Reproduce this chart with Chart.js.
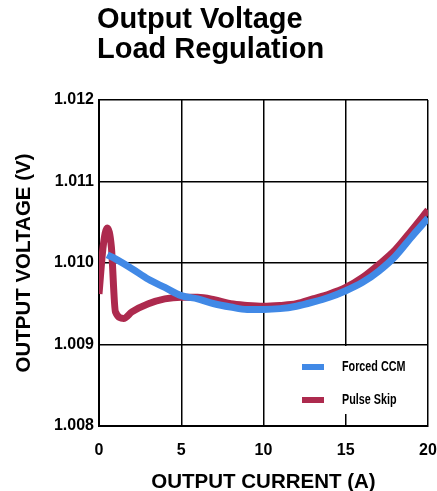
<!DOCTYPE html>
<html>
<head>
<meta charset="utf-8">
<script src="https://cdn.jsdelivr.net/npm/chart.js@4"></script>
<style>
  html, body { margin: 0; padding: 0; background: #fff; }
  #wrap { position: relative; width: 437px; height: 491px; }
  #title { position: absolute; left: 97px; top: 3px; margin: 0; font: bold 29px/30px "Liberation Sans", Arial, sans-serif; color: #000; }
  canvas { position: absolute; left: 0; top: 0; }
</style>
</head>
<body>
<div id="wrap">
  <canvas id="chart" width="437" height="491"></canvas>
  <h1 id="title">Output Voltage<br>Load Regulation</h1>
</div>
<script>
// values
var ccmCurrent = [0.5, 1, 2, 3, 4, 5, 6, 7, 8, 9, 10, 11, 12, 13, 14, 15, 16, 17, 18, 19, 20];
var ccmVoltage = [1.0101, 1.01005, 1.00993, 1.0098, 1.0097, 1.0096, 1.00956, 1.0095, 1.00946, 1.00943, 1.00943,
    1.00944, 1.00947, 1.00952, 1.00958, 1.00966, 1.00976, 1.0099, 1.01008, 1.01032, 1.01055];

var skipCurrent = [0, 0.25, 0.5, 0.75, 1, 1.5, 2, 3, 4, 5, 6, 7, 8, 9, 10, 11, 12, 13, 14, 15, 16, 17, 18, 19, 20];
var skipVoltage = [1.00962, 1.0102, 1.01043, 1.0102, 1.0094, 1.00932, 1.0094, 1.0095, 1.00956, 1.00958, 1.00958,
    1.00955, 1.0095, 1.00948, 1.00947, 1.00948, 1.0095, 1.00956, 1.00962, 1.0097, 1.00982, 1.00998, 1.01016, 1.0104, 1.01065];

var xTicks = [0, 5, 10, 15, 20];
var yTicks = [1.008, 1.009, 1.010, 1.011, 1.012];

function toPoints(xs, ys) {
    var pts = [];
    for (var i = 0; i < xs.length; i++) pts.push({ x: xs[i], y: ys[i] });
    return pts;
}

// legend box inside the plot, lower right (narrow text squeezed by hand)
var boxLegend = {
    id: 'boxLegend',
    afterDatasetsDraw: function(chart) {
        var ctx = chart.ctx;
        var area = chart.chartArea;
        var x0 = area.right - 138, y0 = area.bottom - 80;
        ctx.save();
        ctx.fillStyle = '#fff';
        ctx.fillRect(x0, y0, 136, 68);
        ctx.font = 'bold 14px "Liberation Sans", sans-serif';
        ctx.textBaseline = 'middle';
        chart.data.datasets.forEach(function(ds, i) {
            var y = y0 + 21 + i * 33;
            ctx.strokeStyle = ds.borderColor;
            ctx.lineWidth = 6;
            ctx.beginPath();
            ctx.moveTo(x0 + 12, y);
            ctx.lineTo(x0 + 34, y);
            ctx.stroke();
            ctx.save();
            ctx.translate(x0 + 52, y);
            ctx.scale(0.77, 1);
            ctx.fillStyle = '#000';
            ctx.fillText(ds.label, 0, 0);
            ctx.restore();
        });
        ctx.restore();
    }
};

var ctx = document.getElementById('chart').getContext('2d');
var chart = new Chart(ctx, {
    type: 'line',
    data: {
        datasets: [{
            label: 'Forced CCM',
            data: toPoints(ccmCurrent, ccmVoltage),
            borderColor: '#4189e6',
            borderWidth: 7,
            pointRadius: 0,
            cubicInterpolationMode: 'monotone'
        }, {
            label: 'Pulse Skip',
            data: toPoints(skipCurrent, skipVoltage),
            borderColor: '#ad2a4e',
            borderWidth: 7,
            pointRadius: 0,
            cubicInterpolationMode: 'monotone'
        }]
    },
    options: {
        responsive: false,
        animation: false,
        layout: { padding: { top: 100, right: 0, left: 0, bottom: 0 } },
        plugins: { legend: { display: false }, tooltip: { enabled: false } },
        scales: {
            x: {
                type: 'linear',
                min: 0,
                max: 20,
                afterBuildTicks: function(scale) { scale.ticks = xTicks.map(function(v) { return { value: v }; }); },
                afterFit: function(scale) {
                    scale.height = 65;
                    scale.paddingRight = 9;
                    scale.paddingLeft = 0;
                },
                grid: { color: '#000', lineWidth: 1.5, drawTicks: false },
                border: { color: '#000', width: 2 },
                ticks: { color: '#000', padding: 15, font: { family: 'Liberation Sans', size: 16, weight: 'bold' } },
                title: { display: true, text: 'OUTPUT CURRENT (A)', color: '#000', padding: { top: 0, bottom: -4 },
                    font: { family: 'Liberation Sans', size: 20.5, weight: 'bold' } }
            },
            y: {
                min: 1.008,
                max: 1.012,
                afterBuildTicks: function(scale) { scale.ticks = yTicks.map(function(v) { return { value: v }; }); },
                afterFit: function(scale) { scale.width = 99; },
                grid: { color: '#000', lineWidth: 1.5, drawTicks: false },
                border: { color: '#000', width: 2 },
                ticks: { color: '#000', padding: 5, font: { family: 'Liberation Sans', size: 16, weight: 'bold' },
                    callback: function(v) { return v.toFixed(3); } },
                title: { display: true, text: 'OUTPUT VOLTAGE (V)', color: '#000', padding: { top: 12, bottom: 0 },
                    font: { family: 'Liberation Sans', size: 20.5, weight: 'bold' } }
            }
        }
    },
    plugins: [boxLegend]
});
</script>
</body>
</html>
